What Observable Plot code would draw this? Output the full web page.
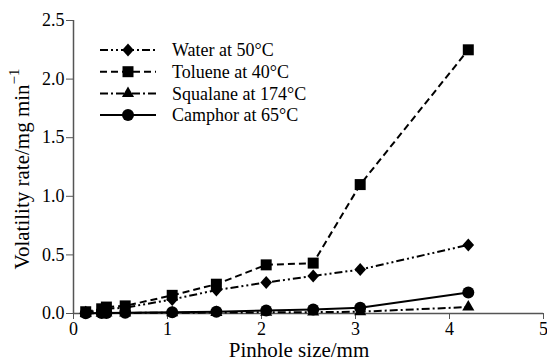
<!DOCTYPE html>
<html>
<head>
<meta charset="utf-8">
<script src="https://cdn.jsdelivr.net/npm/d3@7"></script>
<script src="https://cdn.jsdelivr.net/npm/@observablehq/plot@0.6"></script>
<style>
  html, body { margin: 0; padding: 0; background: white; }
  #chart { width: 547px; height: 361px; }
  #chart svg, #chart svg text { font-family: "Liberation Serif", "Times New Roman", Times, Tinos, "Noto Serif", "DejaVu Serif", serif !important; }
</style>
</head>
<body>
<div id="chart"></div>
<script>
// Data
const pinhole = [0.13, 0.3, 0.35, 0.55, 1.05, 1.52, 2.05, 2.55, 3.05, 4.2];
const water    = [0.01, 0.03, 0.04, 0.05, 0.12, 0.2, 0.265, 0.32, 0.375, 0.585];
const toluene  = [0.015, 0.04, 0.055, 0.065, 0.155, 0.25, 0.415, 0.43, 1.1, 2.25];
const squalane = [0.002, 0.003, 0.004, 0.005, 0.006, 0.008, 0.01, 0.012, 0.015, 0.055];
const camphor  = [0.003, 0.004, 0.005, 0.006, 0.01, 0.015, 0.025, 0.035, 0.05, 0.18];
const seriesNames = ["Water at 50°C", "Toluene at 40°C", "Squalane at 174°C", "Camphor at 65°C"];
const xTicks = [0, 1, 2, 3, 4, 5];
const yTicks = [0, 0.5, 1.0, 1.5, 2.0, 2.5];

// custom diamond (slightly taller than wide), scaled from size
const diamondSym = {
  draw(ctx, size) {
    const k = Math.sqrt(size / Math.PI) / 5;
    const w = 5.8 * k, h = 6.5 * k;
    ctx.moveTo(0, -h); ctx.lineTo(w, 0); ctx.lineTo(0, h); ctx.lineTo(-w, 0); ctx.closePath();
  }
};
const styles = [
  {values: water, symbol: diamondSym, r: 5, dash: "8,3,2,3,2,3"},
  {values: toluene, symbol: "square", r: 6.2, dash: "7,4"},
  {values: squalane, symbol: "triangle", r: 4.5, dash: "8,3,2,3"},
  {values: camphor, symbol: "circle", r: 6, dash: null}
];
const tables = styles.map((s, i) => pinhole.map((x, j) => ({x, y: s.values[j], series: seriesNames[i]})));

const marks = [
  Plot.ruleY([0], {stroke: "#555", strokeWidth: 1.5}),
  Plot.ruleX([0], {stroke: "#555", strokeWidth: 1.5}),
  Plot.axisX({ticks: xTicks, tickSize: 6, tickPadding: 3, stroke: "#555", fill: "black", label: null, tickFormat: d3.format("d")}),
  Plot.axisY({ticks: yTicks, tickSize: 7, tickPadding: 2, stroke: "#555", fill: "black", label: null, tickFormat: d3.format(".1f")})
];
styles.forEach((s, i) => {
  marks.push(Plot.line(tables[i], {x: "x", y: "y", stroke: "black", strokeWidth: 2, strokeDasharray: s.dash, strokeLinecap: "butt"}));
  marks.push(Plot.dot(tables[i], {x: "x", y: "y", symbol: s.symbol, r: s.r, fill: "black", stroke: "none"}));
});

const font = "'Liberation Serif', 'Times New Roman', Times, Tinos, 'Noto Serif', 'DejaVu Serif', serif";
const plot = Plot.plot({
  width: 547,
  height: 361,
  marginLeft: 73,
  marginRight: 4,
  marginTop: 20,
  marginBottom: 48,
  style: {fontFamily: font, fontSize: "18px", color: "black", background: "white"},
  x: {domain: [0, 5]},
  y: {domain: [0, 2.5]},
  marks
});
document.getElementById("chart").appendChild(plot);

const svg = d3.select(plot);
// x axis label
svg.append("text")
  .attr("x", 299).attr("y", 357)
  .attr("text-anchor", "middle")
  .style("font-family", font).attr("font-size", 21).attr("fill", "black")
  .text("Pinhole size/mm");
// y axis label with superscript
const yl = svg.append("text")
  .attr("transform", "translate(29,169) rotate(-90)")
  .attr("text-anchor", "middle")
  .style("font-family", font).attr("font-size", 21).attr("fill", "black");
yl.append("tspan").text("Volatility rate/mg min");
yl.append("tspan").attr("dy", -10).attr("font-size", 15).text("\u22121");

// legend
const legend = svg.append("g").style("font-family", font).attr("font-size", 18).attr("text-anchor", "start");
styles.forEach((s, i) => {
  const cy = 50 + i * 21.7;
  legend.append("line").attr("x1", 100).attr("x2", 156).attr("y1", cy).attr("y2", cy)
    .attr("stroke", "black").attr("stroke-width", 2).attr("stroke-dasharray", s.dash);
  const symType = typeof s.symbol === "string" ? {square: d3.symbolSquare, triangle: d3.symbolTriangle, circle: d3.symbolCircle}[s.symbol] : s.symbol;
  legend.append("path").attr("d", d3.symbol(symType, Math.PI * s.r * s.r)())
    .attr("transform", `translate(128,${cy})`).attr("fill", "black");
  legend.append("text").attr("x", 172).attr("y", cy).attr("dy", "0.35em").attr("text-anchor", "start").attr("fill", "black").text(seriesNames[i]);
});
</script>
</body>
</html>
